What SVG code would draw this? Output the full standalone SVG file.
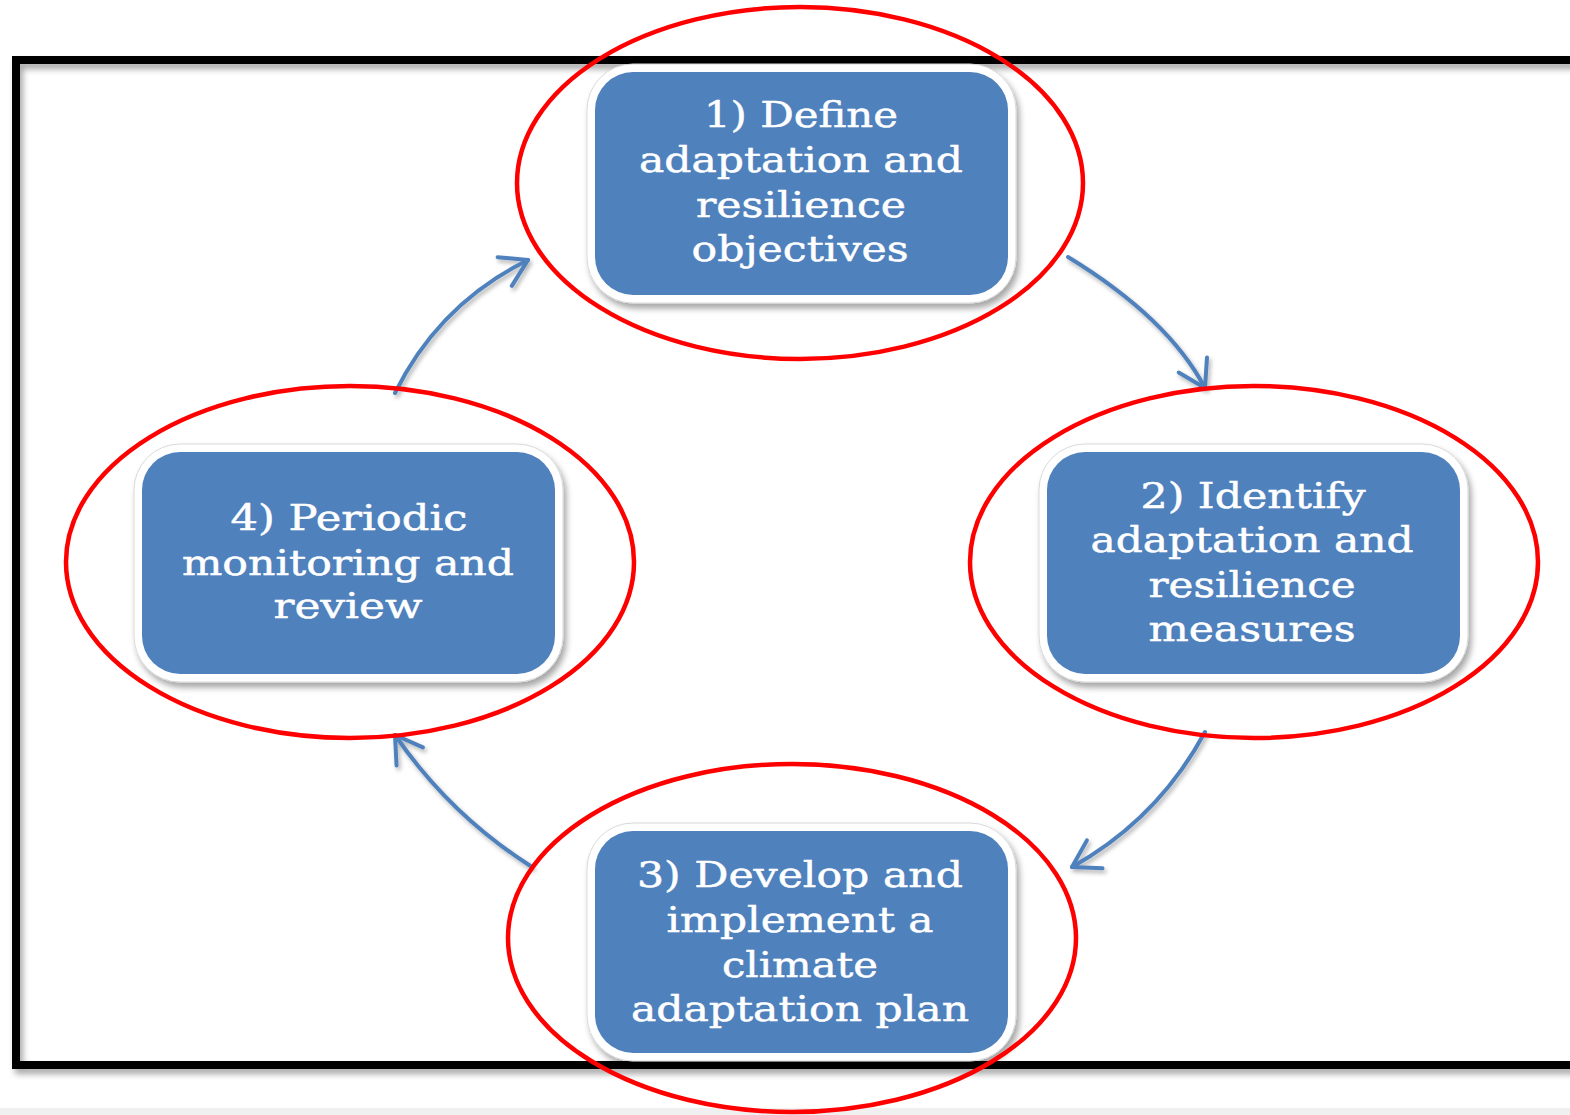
<svg xmlns="http://www.w3.org/2000/svg" width="1570" height="1115" viewBox="0 0 1570 1115">
<defs>
<style>
.frame{fill:none;stroke:#000;stroke-width:8}
.outer{fill:#fff;stroke:#d9d9d9;stroke-width:1}
.box{fill:#4f81bd}
.lbl{font-family:"DejaVu Serif","Liberation Serif",serif;font-size:36px;fill:#fff;stroke:#fff;stroke-width:0.5;text-anchor:middle}
.conn{fill:none;stroke:#4f81bd;stroke-width:4;stroke-linecap:round}
.ring{fill:none;stroke:#f00;stroke-width:4.5}
</style>
<filter id="sh" x="-10%" y="-10%" width="130%" height="130%">
<feDropShadow dx="3" dy="5" stdDeviation="3" flood-color="#000" flood-opacity="0.35"/>
</filter>
<filter id="ash" x="-20%" y="-20%" width="150%" height="150%">
<feDropShadow dx="2" dy="3" stdDeviation="2" flood-color="#000" flood-opacity="0.3"/>
</filter>
<marker id="head" markerUnits="userSpaceOnUse" viewBox="-40 -25 50 50" markerWidth="50" markerHeight="50" refX="0" refY="0" orient="auto" overflow="visible">
<path d="M-26,-16 L0,0 L-26,16" fill="none" stroke="#4f81bd" stroke-width="4" stroke-linecap="round" stroke-linejoin="round"/>
</marker>
</defs>
<rect x="0" y="0" width="1570" height="1115" fill="#fff"/>
<rect x="0" y="1108" width="1570" height="7" fill="#f0f0f0"/>
<rect id="frame" class="frame" x="16" y="60" width="1580" height="1005" filter="url(#sh)"/>

<g id="node1">
<rect class="outer" x="587" y="64" width="429" height="239" rx="46" filter="url(#sh)"/>
<rect class="box" x="595" y="72" width="413" height="223" rx="38"/>
<text class="lbl" x="801" y="127" textLength="194" lengthAdjust="spacingAndGlyphs">1) Define</text>
<text class="lbl" x="801" y="172" textLength="324" lengthAdjust="spacingAndGlyphs">adaptation and</text>
<text class="lbl" x="801" y="217" textLength="210" lengthAdjust="spacingAndGlyphs">resilience</text>
<text class="lbl" x="800" y="261" textLength="217" lengthAdjust="spacingAndGlyphs">objectives</text>
</g>

<g id="node2">
<rect class="outer" x="1039" y="444" width="429" height="238" rx="46" filter="url(#sh)"/>
<rect class="box" x="1047" y="452" width="413" height="222" rx="38"/>
<text class="lbl" x="1253" y="508" textLength="225" lengthAdjust="spacingAndGlyphs">2) Identify</text>
<text class="lbl" x="1252" y="552" textLength="323" lengthAdjust="spacingAndGlyphs">adaptation and</text>
<text class="lbl" x="1252" y="597" textLength="207" lengthAdjust="spacingAndGlyphs">resilience</text>
<text class="lbl" x="1252" y="641" textLength="207" lengthAdjust="spacingAndGlyphs">measures</text>
</g>

<g id="node3">
<rect class="outer" x="587" y="823" width="429" height="238" rx="46" filter="url(#sh)"/>
<rect class="box" x="595" y="831" width="413" height="222" rx="38"/>
<text class="lbl" x="800" y="887" textLength="326" lengthAdjust="spacingAndGlyphs">3) Develop and</text>
<text class="lbl" x="800" y="932" textLength="267" lengthAdjust="spacingAndGlyphs">implement a</text>
<text class="lbl" x="800" y="977" textLength="156" lengthAdjust="spacingAndGlyphs">climate</text>
<text class="lbl" x="800" y="1021" textLength="338" lengthAdjust="spacingAndGlyphs">adaptation plan</text>
</g>

<g id="node4">
<rect class="outer" x="134" y="444" width="429" height="238" rx="46" filter="url(#sh)"/>
<rect class="box" x="142" y="452" width="413" height="222" rx="38"/>
<text class="lbl" x="349" y="530" textLength="237" lengthAdjust="spacingAndGlyphs">4) Periodic</text>
<text class="lbl" x="348" y="575" textLength="332" lengthAdjust="spacingAndGlyphs">monitoring and</text>
<text class="lbl" x="348" y="618" textLength="149" lengthAdjust="spacingAndGlyphs">review</text>
</g>

<g id="connectors" filter="url(#ash)">
<path class="conn" d="M1068,257 Q1168,318 1205,388" marker-end="url(#head)"/>
<path class="conn" d="M1205,732 Q1158,819 1072,867" marker-end="url(#head)"/>
<path class="conn" d="M532,867 Q450,815 395,735" marker-end="url(#head)"/>
<path class="conn" d="M395,393 Q439,304 528,260" marker-end="url(#head)"/>
</g>

<g id="highlights">
<ellipse class="ring" cx="800" cy="183" rx="283" ry="176"/>
<ellipse class="ring" cx="1254" cy="562" rx="284" ry="176"/>
<ellipse class="ring" cx="792" cy="938" rx="284" ry="174"/>
<ellipse class="ring" cx="350" cy="562" rx="284" ry="176"/>
</g>
</svg>
